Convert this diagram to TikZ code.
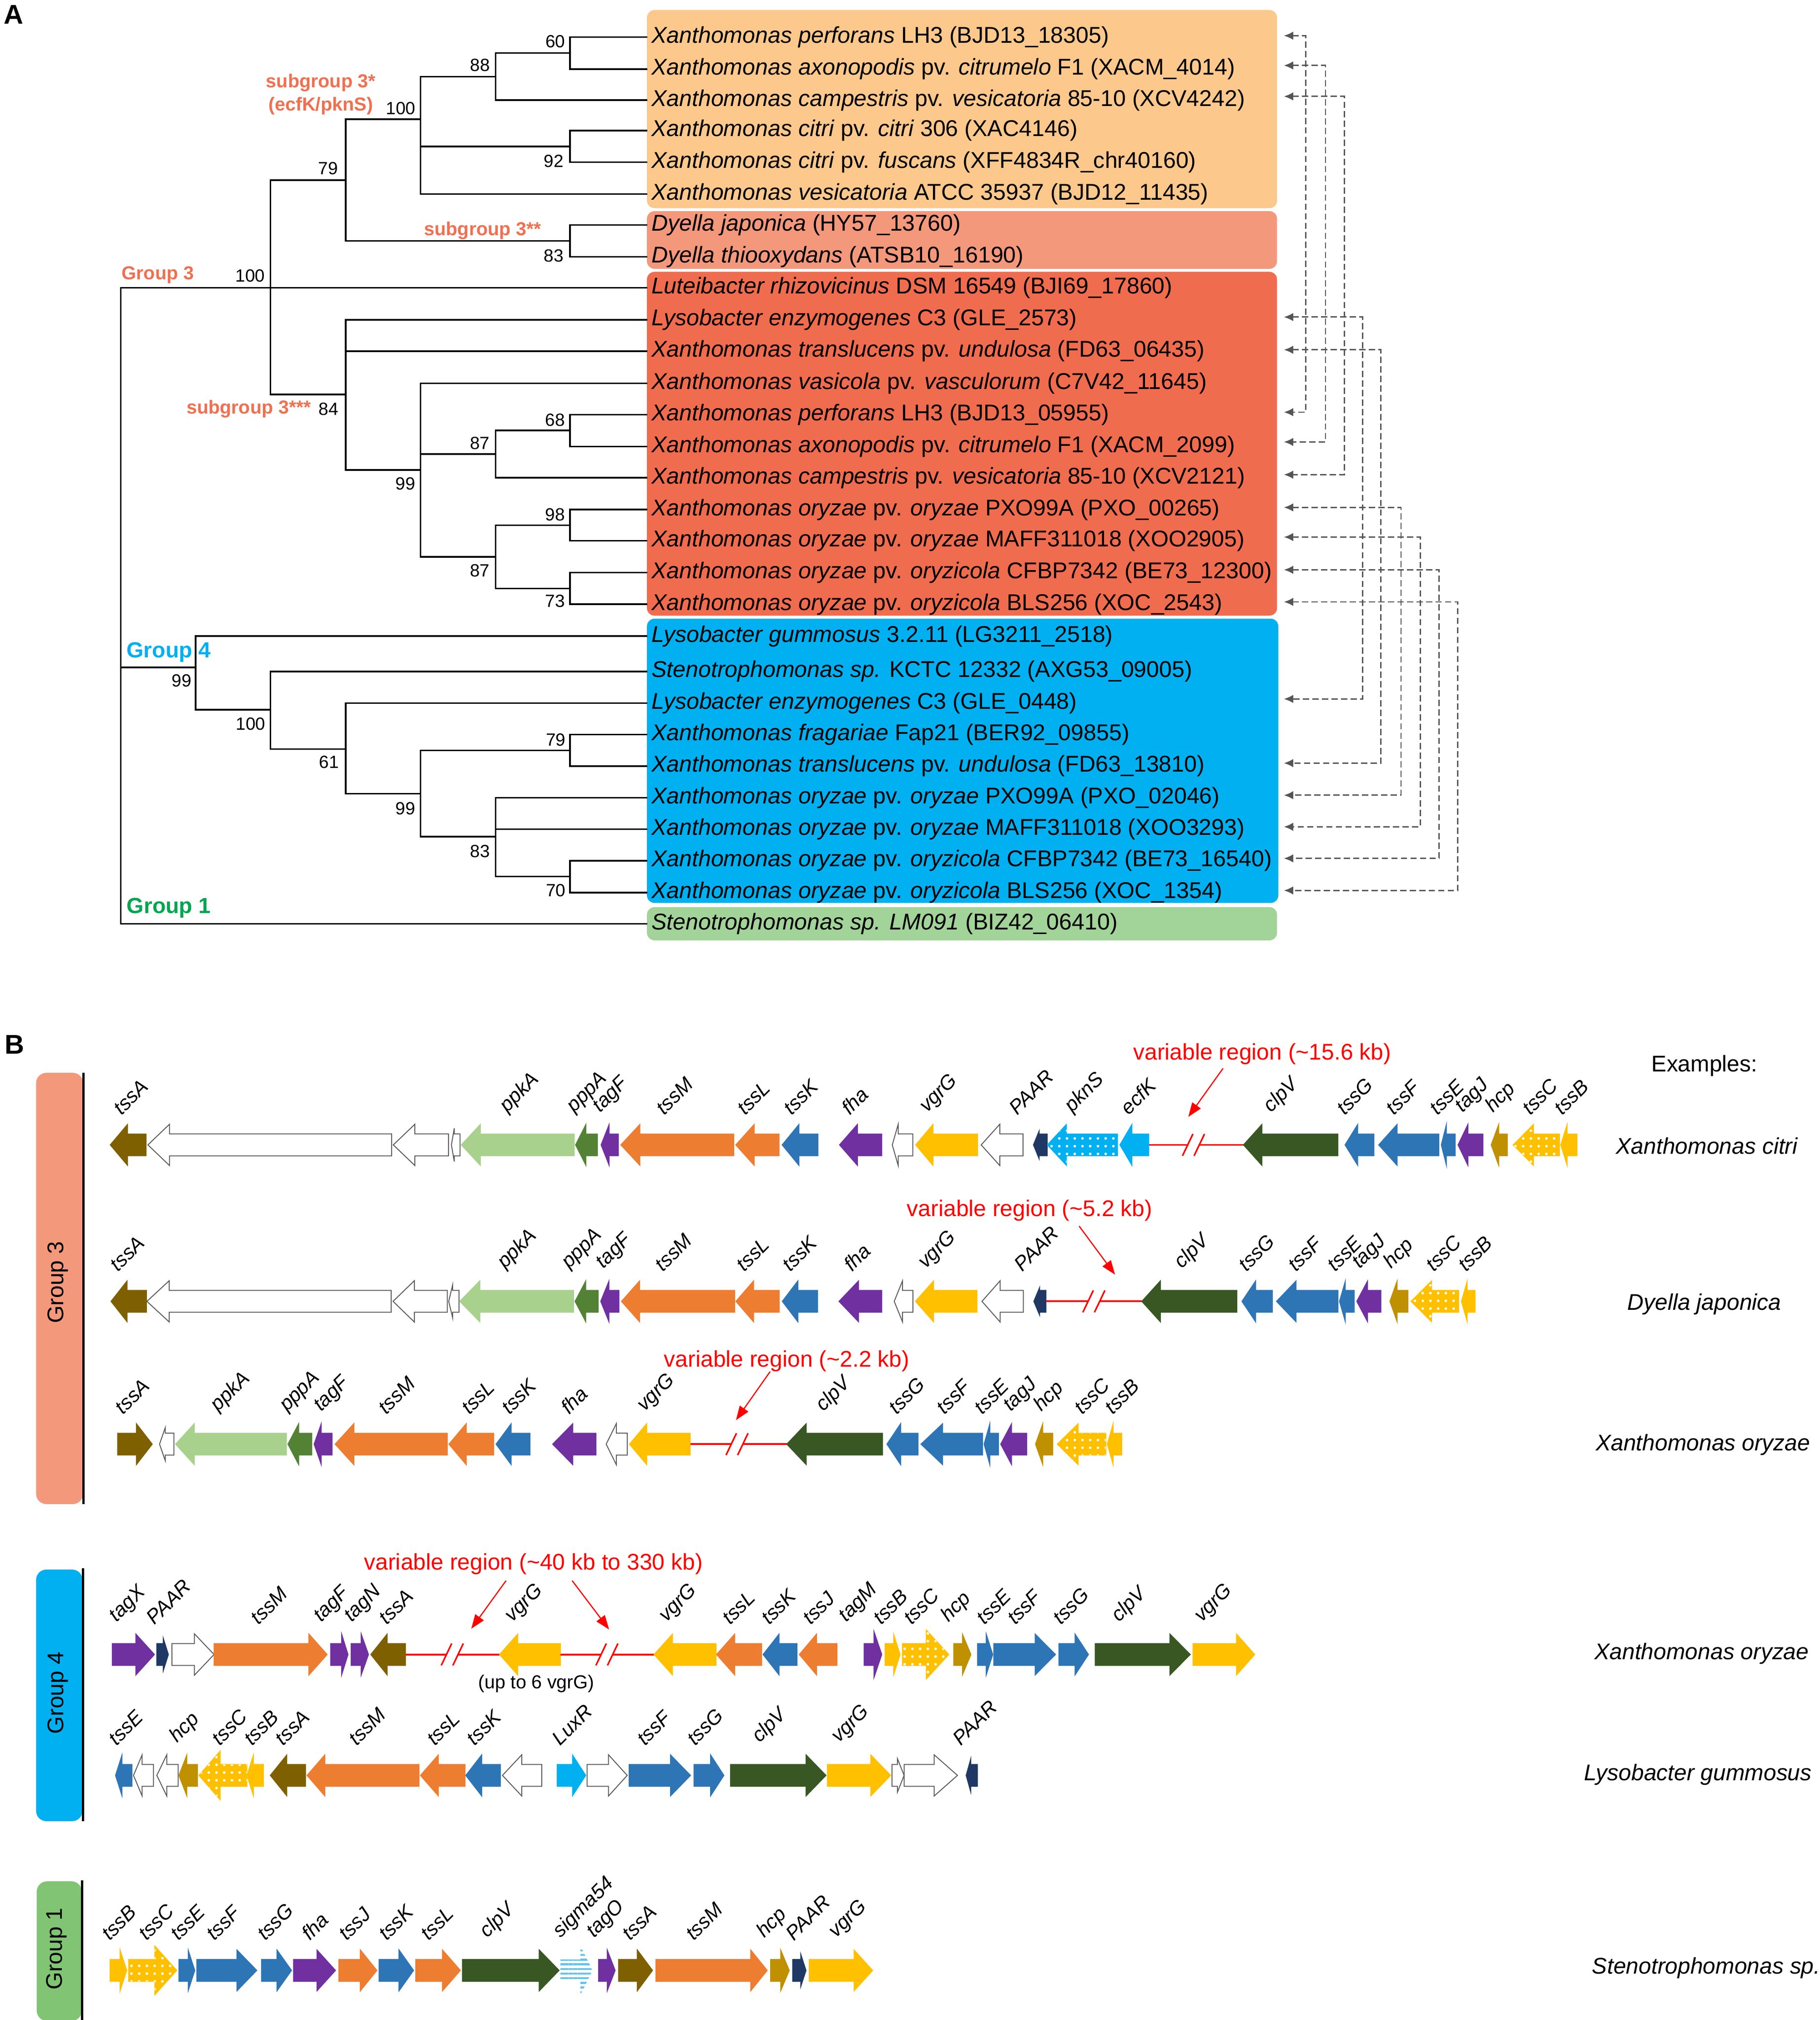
\documentclass[tikz,border=0pt]{standalone}
\usepackage{fontspec}
\setmainfont{Liberation Sans}
\usetikzlibrary{arrows.meta,patterns.meta,calc}

\definecolor{boxorange}{RGB}{252,200,140}
\definecolor{boxsalmon}{RGB}{244,152,124}
\definecolor{boxred}{RGB}{240,108,78}
\definecolor{boxblue}{RGB}{0,176,240}
\definecolor{boxgreen}{RGB}{162,211,152}
\definecolor{bargreen}{RGB}{128,196,116}
\definecolor{txtorange}{RGB}{240,112,80}
\definecolor{txtgreen}{RGB}{0,166,80}
\definecolor{pairgray}{RGB}{85,85,85}
\definecolor{cbrown}{RGB}{127,96,0}
\definecolor{clgreen}{RGB}{169,209,142}
\definecolor{cdgreen}{RGB}{84,130,53}
\definecolor{cpurple}{RGB}{112,48,160}
\definecolor{corange}{RGB}{237,125,49}
\definecolor{cblue}{RGB}{46,117,182}
\definecolor{cyellow}{RGB}{255,192,0}
\definecolor{cnavy}{RGB}{31,56,100}
\definecolor{ccyan}{RGB}{0,176,240}
\definecolor{cclpv}{RGB}{56,87,35}
\definecolor{chcp}{RGB}{191,144,0}
\definecolor{cstripe}{RGB}{100,195,235}
\definecolor{cred}{RGB}{255,0,0}

\newcommand{\leaffont}{\fontsize{8.85}{10}\selectfont}
\newcommand{\bootfont}{\fontsize{6.85}{8}\selectfont}
\newcommand{\sublabfont}{\fontsize{7.3}{9.15}\selectfont\bfseries}
\newcommand{\grpfont}{\fontsize{8.5}{10}\selectfont\bfseries}
\newcommand{\genefont}{\fontsize{7.8}{8.5}\selectfont\itshape}
\newcommand{\exfont}{\fontsize{8.8}{10}\selectfont}
\newcommand{\varfont}{\fontsize{8.8}{10}\selectfont}

\tikzset{
  branch/.style={line width=0.6pt, line cap=rect},
  leaf/.style={anchor=west, inner xsep=1.7pt, inner ysep=0pt, font=\leaffont},
  bootval/.style={inner sep=0pt, font=\bootfont},
  sublab/.style={inner sep=0pt, font=\sublabfont, text=txtorange, align=center},
  grplab/.style={inner sep=0pt, font=\grpfont},
  clade/.style={rounded corners=3pt},
  pairlink/.style={draw=pairgray, line width=0.5pt, dash pattern=on 2.4pt off 1.3pt,
    {Latex[length=3.6pt,width=3.2pt]}-{Latex[length=3.6pt,width=3.2pt]}},
  genelab/.style={rotate=45, anchor=south west, inner sep=0pt, font=\genefont},
  gbrown/.style={fill=cbrown, draw=cbrown},
  glgreen/.style={fill=clgreen, draw=clgreen},
  gdgreen/.style={fill=cdgreen, draw=cdgreen},
  gpurple/.style={fill=cpurple, draw=cpurple},
  gorange/.style={fill=corange, draw=corange},
  gblue/.style={fill=cblue, draw=cblue},
  gyellow/.style={fill=cyellow, draw=cyellow},
  gnavy/.style={fill=cnavy, draw=cnavy},
  gcyan/.style={fill=ccyan, draw=ccyan},
  gclpv/.style={fill=cclpv, draw=cclpv},
  ghcp/.style={fill=chcp, draw=chcp},
  gwhite/.style={fill=white, draw=black!65, line width=0.35pt},
  dotfill/.style={postaction={pattern={Dots[distance=3pt,radius=0.5pt]}, pattern color=white}},
  gstripe/.style={fill=white, draw=none,
    postaction={pattern={Lines[angle=0,distance=1.8pt,line width=0.8pt]}, pattern color=cstripe}},
  redline/.style={draw=cred, line width=0.7pt},
  redarrow/.style={draw=cred, line width=0.45pt, -{Triangle[length=5.5pt,width=4pt]}},
  varlab/.style={inner sep=0pt, font=\varfont, text=cred},
  exlab/.style={inner sep=0pt, font=\exfont},
  grpbar/.style={rounded corners=4pt},
  bartext/.style={rotate=90, inner sep=0pt, font=\fontsize{8.8}{10}\selectfont}
}

% gene arrow: [head half height]{name}{style}{tip}{head base}{tail}{label x}{label}
\newcommand{\gene}[8][16]{%
  \filldraw[line width=0.3pt,#3] (#4,\ry) -- (#5,\ry-#1) -- (#5,\ry-8.5) -- (#6,\ry-8.5)
    -- (#6,\ry+8.5) -- (#5,\ry+8.5) -- (#5,\ry+#1) -- cycle;
  \node[genelab] (#2) at (#7,\ry-22) {#8};}
\newcommand{\orf}[4][16]{%
  \filldraw[gwhite] (#2,\ry) -- (#3,\ry-#1) -- (#3,\ry-8.5) -- (#4,\ry-8.5)
    -- (#4,\ry+8.5) -- (#3,\ry+8.5) -- (#3,\ry+#1) -- cycle;}
\newcommand{\varbreak}[3]{%
  \draw[redline] (#1,\ry) -- (#2-4.5,\ry) (#2+4.5,\ry) -- (#3,\ry);
  \draw[redline, line width=0.6pt] (#2-8.6,\ry+8.5) -- (#2-0.5,\ry-8.5)
    (#2+0.4,\ry+8.5) -- (#2+8.5,\ry-8.5);}

\begin{document}
\begin{tikzpicture}[x=0.5pt,y=-0.5pt]
\path[use as bounding box, fill=white] (0,0) rectangle (1412,1567.3);

\node[font=\fontsize{10.5}{12}\selectfont\bfseries, inner sep=0pt] (labA) at (10.6,11.4) {A};

% clade boxes
\fill[boxorange, clade] (502,7.8) rectangle (991,161.5);
\fill[boxsalmon, clade] (502,163.8) rectangle (991,208.6);
\fill[boxred, clade] (502,210.9) rectangle (991,477.7);
\fill[boxblue, clade] (502,480) rectangle (992,700.6);
\fill[boxgreen, clade] (502,703.8) rectangle (991,729.6);

% leaves
\node[leaf] (l1) at (501.7,28.8) {\textit{Xanthomonas perforans} LH3 (BJD13\_18305)};
\node[leaf] (l2) at (501.7,53.6) {\textit{Xanthomonas axonopodis} pv. \textit{citrumelo} F1 (XACM\_4014)};
\node[leaf] (l3) at (501.7,77.7) {\textit{Xanthomonas campestris} pv. \textit{vesicatoria} 85-10 (XCV4242)};
\node[leaf] (l4) at (501.7,101.3) {\textit{Xanthomonas citri} pv. \textit{citri} 306 (XAC4146)};
\node[leaf] (l5) at (501.7,125.8) {\textit{Xanthomonas citri} pv. \textit{fuscans} (XFF4834R\_chr40160)};
\node[leaf] (l6) at (501.7,150.5) {\textit{Xanthomonas vesicatoria} ATCC 35937 (BJD12\_11435)};
\node[leaf] (l7) at (501.7,174.6) {\textit{Dyella japonica} (HY57\_13760)};
\node[leaf] (l8) at (501.7,199.3) {\textit{Dyella thiooxydans} (ATSB10\_16190)};
\node[leaf] (l9) at (501.7,223.3) {\textit{Luteibacter rhizovicinus} DSM 16549 (BJI69\_17860)};
\node[leaf] (l10) at (501.7,248.1) {\textit{Lysobacter enzymogenes} C3 (GLE\_2573)};
\node[leaf] (l11) at (501.7,272.5) {\textit{Xanthomonas translucens} pv. \textit{undulosa} (FD63\_06435)};
\node[leaf] (l12) at (501.7,297.4) {\textit{Xanthomonas vasicola} pv. \textit{vasculorum} (C7V42\_11645)};
\node[leaf] (l13) at (501.7,321.7) {\textit{Xanthomonas perforans} LH3 (BJD13\_05955)};
\node[leaf] (l14) at (501.7,346.4) {\textit{Xanthomonas axonopodis} pv. \textit{citrumelo} F1 (XACM\_2099)};
\node[leaf] (l15) at (501.7,370.7) {\textit{Xanthomonas campestris} pv. \textit{vesicatoria} 85-10 (XCV2121)};
\node[leaf] (l16) at (501.7,395.4) {\textit{Xanthomonas oryzae} pv. \textit{oryzae} PXO99A (PXO\_00265)};
\node[leaf] (l17) at (501.7,419.6) {\textit{Xanthomonas oryzae} pv. \textit{oryzae} MAFF311018 (XOO2905)};
\node[leaf] (l18) at (501.7,444.3) {\textit{Xanthomonas oryzae} pv. \textit{oryzicola} CFBP7342 (BE73\_12300)};
\node[leaf] (l19) at (501.7,468.8) {\textit{Xanthomonas oryzae} pv. \textit{oryzicola} BLS256 (XOC\_2543)};
\node[leaf] (l20) at (501.7,493.5) {\textit{Lysobacter gummosus} 3.2.11 (LG3211\_2518)};
\node[leaf] (l21) at (501.7,521) {\textit{Stenotrophomonas sp.} KCTC 12332 (AXG53\_09005)};
\node[leaf] (l22) at (501.7,545.5) {\textit{Lysobacter enzymogenes} C3 (GLE\_0448)};
\node[leaf] (l23) at (501.7,570) {\textit{Xanthomonas fragariae} Fap21 (BER92\_09855)};
\node[leaf] (l24) at (501.7,594.4) {\textit{Xanthomonas translucens} pv. \textit{undulosa} (FD63\_13810)};
\node[leaf] (l25) at (501.7,618.9) {\textit{Xanthomonas oryzae} pv. \textit{oryzae} PXO99A (PXO\_02046)};
\node[leaf] (l26) at (501.7,643.3) {\textit{Xanthomonas oryzae} pv. \textit{oryzae} MAFF311018 (XOO3293)};
\node[leaf] (l27) at (501.7,667.8) {\textit{Xanthomonas oryzae} pv. \textit{oryzicola} CFBP7342 (BE73\_16540)};
\node[leaf] (l28) at (501.7,692.5) {\textit{Xanthomonas oryzae} pv. \textit{oryzicola} BLS256 (XOC\_1354)};
\node[leaf] (l29) at (501.7,716.8) {\textit{Stenotrophomonas sp. LM091} (BIZ42\_06410)};

% internal nodes
\coordinate (root) at (93.7,223.3);
\coordinate (g3) at (209.9,223.3);
\coordinate (n79a) at (268.3,139.8);
\coordinate (n100a) at (326.4,92.5);
\coordinate (n88) at (384.5,59.5);
\coordinate (n60) at (442.3,41.2);
\coordinate (n92) at (442.3,113.6);
\coordinate (n83a) at (442.3,187);
\coordinate (n84) at (268.3,306);
\coordinate (n99a) at (326.4,364.6);
\coordinate (n87a) at (384.5,352.3);
\coordinate (n68) at (442.3,334);
\coordinate (n87b) at (384.5,432.1);
\coordinate (n98) at (442.3,407.5);
\coordinate (n73) at (442.3,456.6);
\coordinate (g4) at (151.8,517.8);
\coordinate (n100b) at (209.9,550.7);
\coordinate (n61) at (268.3,581.3);
\coordinate (n99b) at (326.4,615.9);
\coordinate (n79b) at (442.3,582.2);
\coordinate (n83b) at (384.5,649.2);
\coordinate (n70) at (442.3,680.1);

\draw[branch] (root) |- (g3) (root) |- (g4) (root) |- (l29.west)
  (g3) |- (n79a) (g3) |- (l9.west) (g3) |- (n84)
  (n79a) |- (n100a) (n79a) |- (n83a)
  (n100a) |- (n88) (n100a) |- (n92) (n100a) |- (l6.west)
  (n88) |- (n60) (n88) |- (l3.west)
  (n60) |- (l1.west) (n60) |- (l2.west)
  (n92) |- (l4.west) (n92) |- (l5.west)
  (n83a) |- (l7.west) (n83a) |- (l8.west)
  (n84) |- (l10.west) (n84) |- (l11.west) (n84) |- (n99a)
  (n99a) |- (l12.west) (n99a) |- (n87a) (n99a) |- (n87b)
  (n87a) |- (n68) (n87a) |- (l15.west)
  (n68) |- (l13.west) (n68) |- (l14.west)
  (n87b) |- (n98) (n87b) |- (n73)
  (n98) |- (l16.west) (n98) |- (l17.west)
  (n73) |- (l18.west) (n73) |- (l19.west)
  (g4) |- (l20.west) (g4) |- (n100b)
  (n100b) |- (l21.west) (n100b) |- (n61)
  (n61) |- (l22.west) (n61) |- (n99b)
  (n99b) |- (n79b) (n99b) |- (n83b)
  (n79b) |- (l23.west) (n79b) |- (l24.west)
  (n83b) |- (l25.west) (n83b) |- (l26.west) (n83b) |- (n70)
  (n70) |- (l27.west) (n70) |- (l28.west);

% bootstrap values
\node[bootval] (b60) at (431,32) {60};
\node[bootval] (b88) at (372.6,50.4) {88};
\node[bootval] (b100a) at (311,84) {100};
\node[bootval] (b79a) at (254.6,130.8) {79};
\node[bootval] (b92) at (429.7,125) {92};
\node[bootval] (b83a) at (429.7,198.5) {83};
\node[bootval] (b100g) at (194.2,213.9) {100};
\node[bootval] (b84) at (255,317.3) {84};
\node[bootval] (b68) at (430.8,325.8) {68};
\node[bootval] (b87a) at (372.4,343.9) {87};
\node[bootval] (b99a) at (314.7,375.2) {99};
\node[bootval] (b98) at (430.8,399.2) {98};
\node[bootval] (b87b) at (372.4,442.7) {87};
\node[bootval] (b73) at (430.8,466.3) {73};
\node[bootval] (b99g) at (141,528.2) {99};
\node[bootval] (b100b) at (194.5,561.5) {100};
\node[bootval] (b61) at (255.4,591.3) {61};
\node[bootval] (b79b) at (431.3,574) {79};
\node[bootval] (b99b) at (314.7,627.3) {99};
\node[bootval] (b83b) at (372.5,660.6) {83};
\node[bootval] (b70) at (431.3,690.8) {70};

% group labels
\node[sublab] (sub1) at (249,73.2) {subgroup 3*\\(ecfK/pknS)};
\node[sublab] (sub2) at (374.5,178.8) {subgroup 3**};
\node[sublab] (sub3) at (193,317.3) {subgroup 3***};
\node[sublab] (grp3) at (122.4,213.5) {Group 3};
\node[grplab, text=boxblue] (grp4) at (130.9,506.1) {Group 4};
\node[grplab, text=txtgreen] (grp1) at (131,704.3) {Group 1};

% paralog links
\coordinate (t1) at (996.3,27.7);
\coordinate (t2) at (996.3,50.8);
\coordinate (t3) at (996.3,74.8);
\coordinate (t10) at (996.3,246);
\coordinate (t11) at (996.3,271.4);
\coordinate (t13) at (996.3,319.8);
\coordinate (t14) at (996.3,342.9);
\coordinate (t15) at (996.3,368.3);
\coordinate (t16) at (996.3,393.7);
\coordinate (t17) at (996.3,416.7);
\coordinate (t18) at (996.3,442.1);
\coordinate (t19) at (996.3,467);
\coordinate (t22) at (996.3,542.3);
\coordinate (t24) at (996.3,592.1);
\coordinate (t25) at (996.3,617);
\coordinate (t26) at (996.3,641.5);
\coordinate (t27) at (996.3,666);
\coordinate (t28) at (996.3,690.9);
\draw[pairlink] (t1) -- ++(17,0) |- (t13);
\draw[pairlink] (t2) -- ++(32.3,0) |- (t14);
\draw[pairlink] (t3) -- ++(47,0) |- (t15);
\draw[pairlink] (t10) -- ++(61.1,0) |- (t22);
\draw[pairlink] (t11) -- ++(75.2,0) |- (t24);
\draw[pairlink] (t16) -- ++(90.9,0) |- (t25);
\draw[pairlink] (t17) -- ++(105.9,0) |- (t26);
\draw[pairlink] (t18) -- ++(120.5,0) |- (t27);
\draw[pairlink] (t19) -- ++(135,0) |- (t28);

% ---------------- B
\node[font=\fontsize{10.5}{12}\selectfont\bfseries, inner sep=0pt] (labB) at (11.2,810.5) {B};

\fill[boxsalmon, grpbar] (28,832.4) rectangle (64.5,1167);
\draw[line width=0.8pt] (64.8,832.4) -- (64.8,1167);
\node[bartext] (bar3) at (45,995) {Group 3};
\fill[boxblue, grpbar] (28,1217.8) rectangle (64,1413);
\draw[line width=0.8pt] (64.4,1216.6) -- (64.4,1413);
\node[bartext] (bar4) at (45,1313.5) {Group 4};
\fill[bargreen, grpbar] (28.5,1459.7) rectangle (63.5,1568);
\draw[line width=0.8pt] (63.8,1459) -- (63.8,1567.3);
\node[bartext] (bar1) at (44,1512) {Group 1};

\node[exlab] (exhead) at (1322.7,827) {Examples:};
\node[exlab, font=\exfont\itshape] (ex1) at (1324.5,889) {Xanthomonas citri};
\node[exlab, font=\exfont\itshape] (ex2) at (1322.5,1012) {Dyella japonica};
\node[exlab, font=\exfont\itshape] (ex3) at (1321.5,1121) {Xanthomonas oryzae};
\node[exlab, font=\exfont\itshape] (ex4) at (1320.5,1283) {Xanthomonas oryzae};
\node[exlab, font=\exfont\itshape] (ex5) at (1317.5,1377) {Lysobacter gummosus};
\node[exlab, font=\exfont\itshape] (ex6) at (1324,1527) {Stenotrophomonas sp.};

% Xanthomonas citri
\def\ry{888.3}
\gene{a-tssA}{gbrown}{85.5}{99}{113.4}{94.5}{tssA}
\orf{114.8}{131.5}{303.9}
\orf{305.2}{321.9}{348}
\orf[13]{350.3}{352.5}{357}
\gene{a-ppkA}{glgreen}{357.9}{372.8}{445.7}{396}{ppkA}
\gene{a-pppA}{gdgreen}{446.6}{454.7}{463.7}{448}{pppA}
\gene{a-tagF}{gpurple}{466.4}{472.7}{479.9}{468}{tagF}
\gene{a-tssM}{gorange}{481.7}{496.6}{569.5}{515.5}{tssM}
\gene{a-tssL}{gorange}{570.9}{585.3}{604.6}{578.5}{tssL}
\gene{a-tssK}{gblue}{606.9}{620}{634.8}{614.5}{tssK}
\gene{a-fha}{gpurple}{651.4}{665.4}{684.3}{659.5}{fha}
\orf{692.4}{697}{708.3}
\gene{a-vgrG}{gyellow}{710.5}{724}{758.7}{721.8}{vgrG}
\orf{761.4}{775.8}{793.8}
\gene[11]{a-PAAR}{gnavy}{801.9}{806.4}{812.7}{789.3}{PAAR}
\gene{a-pknS}{gcyan,dotfill}{812.7}{827.6}{867.2}{834.3}{pknS}
\gene{a-ecfK}{gcyan}{869}{878.4}{891.5}{876.2}{ecfK}
\varbreak{891.5}{926.2}{964.9}
\gene{a-clpV}{gclpv}{964.9}{979.3}{1038.2}{988.7}{clpV}
\gene{a-tssG}{gblue}{1043.7}{1053.6}{1066.2}{1043.7}{tssG}
\gene{a-tssF}{gblue}{1069.8}{1084.2}{1116.6}{1082}{tssF}
\gene{a-tssE}{gblue}{1118.4}{1122.4}{1129.2}{1115.7}{tssE}
\gene{a-tagJ}{gpurple}{1131.4}{1139.1}{1150.8}{1137.3}{tagJ}
\gene{a-hcp}{ghcp}{1157.1}{1163}{1169.7}{1161}{hcp}
\gene{a-tssC}{gyellow,dotfill}{1174.2}{1190}{1210.2}{1187.7}{tssC}
\gene{a-tssB}{gyellow}{1211.1}{1216.1}{1223.7}{1212.5}{tssB}
\node[varlab] (var1) at (979.5,817.8) {variable region (\textasciitilde 15.6 kb)};
\coordinate (var1s) at (949.1,828.9);
\coordinate (var1t) at (922.1,866.6);
\draw[redarrow] (var1s) -- (var1t);

% Dyella japonica
\def\ry{1009.7}
\gene{b-tssA}{gbrown}{86.1}{98.7}{113.7}{91.8}{tssA}
\orf{114}{131.3}{303.5}
\orf{305}{321.5}{347.1}
\orf[13]{348.2}{351.3}{356.2}
\gene{b-ppkA}{glgreen}{356.7}{372.4}{445.1}{394.2}{ppkA}
\gene{b-pppA}{gdgreen}{446.2}{454.6}{464.2}{444}{pppA}
\gene{b-tagF}{gpurple}{466.1}{472.6}{480.3}{470.7}{tagF}
\gene{b-tssM}{gorange}{482.2}{496.4}{570.2}{514.7}{tssM}
\gene{b-tssL}{gorange}{571}{584.8}{604.7}{577.9}{tssL}
\gene{b-tssK}{gblue}{607}{619.2}{634.5}{613.5}{tssK}
\gene{b-fha}{gpurple}{651}{666.3}{684.3}{661.3}{fha}
\orf{693.9}{700.4}{708.4}
\gene{b-vgrG}{gyellow}{710.3}{724.5}{758.1}{720.7}{vgrG}
\orf{762}{776.1}{794.1}
\gene[11]{b-PAAR}{gnavy}{802.2}{806.8}{811.7}{793.4}{PAAR}
\varbreak{811.7}{848.9}{886}
\gene{b-clpV}{gclpv}{886}{900.5}{959.8}{919.6}{clpV}
\gene{b-tssG}{gblue}{963.7}{974.4}{987.4}{967.5}{tssG}
\gene{b-tssF}{gblue}{990.5}{1005.8}{1038.3}{1005.8}{tssF}
\gene{b-tssE}{gblue}{1039.4}{1044}{1050.9}{1036.4}{tssE}
\gene{b-tagJ}{gpurple}{1052.8}{1061.3}{1071.6}{1057.4}{tagJ}
\gene{b-hcp}{ghcp}{1078.5}{1084.2}{1092.6}{1082}{hcp}
\gene{b-tssC}{gyellow,dotfill}{1094.9}{1111}{1132}{1112.9}{tssC}
\gene{b-tssB}{gyellow}{1134}{1138.6}{1144.7}{1137.8}{tssB}
\node[varlab] (var2) at (799,939) {variable region (\textasciitilde 5.2 kb)};
\coordinate (var2s) at (837.4,951.3);
\coordinate (var2t) at (865.3,989);
\draw[redarrow] (var2s) -- (var2t);

% Xanthomonas oryzae, group 3
\def\ry{1120.5}
\gene{c-tssA}{gbrown}{118.2}{105.8}{91.2}{95.7}{tssA}
\orf[13]{123.8}{128.3}{135}
\gene{c-ppkA}{glgreen}{136.2}{150.8}{222.3}{171.6}{ppkA}
\gene{c-pppA}{gdgreen}{223.4}{231.8}{242}{225.1}{pppA}
\gene{c-tagF}{gpurple}{243.7}{249.3}{257.7}{251.5}{tagF}
\gene{c-tssM}{gorange}{260}{274.6}{347.2}{299.9}{tssM}
\gene{c-tssL}{gorange}{348.3}{361.8}{383.2}{364.6}{tssL}
\gene{c-tssK}{gblue}{384.9}{396.7}{411.3}{395.6}{tssK}
\gene{c-fha}{gpurple}{428.8}{444.5}{462.5}{441.7}{fha}
\orf{470.4}{478.3}{486.7}
\gene{c-vgrG}{gyellow}{488.4}{501.9}{535.7}{502.5}{vgrG}
\varbreak{535.7}{572}{610.5}
\gene{c-clpV}{gclpv}{610.5}{625.7}{684.8}{641.5}{clpV}
\gene{c-tssG}{gblue}{688.2}{698.9}{712.4}{696}{tssG}
\gene{c-tssF}{gblue}{714.6}{731.5}{762.5}{733.2}{tssF}
\gene{c-tssE}{gblue}{763.6}{768.1}{774.8}{762.5}{tssE}
\gene{c-tagJ}{gpurple}{776.5}{785}{796.8}{786.7}{tagJ}
\gene{c-hcp}{ghcp}{803.5}{809.2}{817}{810.3}{hcp}
\gene{c-tssC}{gyellow,dotfill}{820.4}{836.7}{858.1}{840.1}{tssC}
\gene{c-tssB}{gyellow}{859.2}{863.8}{870.5}{863.7}{tssB}
\node[varlab] (var3) at (610.5,1056) {variable region (\textasciitilde 2.2 kb)};
\coordinate (var3s) at (597.6,1064.2);
\coordinate (var3t) at (571.1,1101.9);
\draw[redarrow] (var3s) -- (var3t);

% Xanthomonas oryzae, group 4
\def\ry{1283.7}
\gene{d-tagX}{gpurple}{119.9}{105.4}{87.1}{92.9}{tagX}
\gene[13]{d-PAAR}{gnavy}{130.7}{126.6}{121.6}{119.9}{PAAR}
\orf{166.1}{150.9}{133.4}
\gene{d-tssM}{gorange}{253.9}{239.7}{166.1}{200.9}{tssM}
\gene{d-tagF}{gpurple}{270.1}{265.1}{256.6}{251.6}{tagF}
\gene{d-tagN}{gpurple}{286}{280.3}{272.5}{275.2}{tagN}
\gene{d-tssA}{gbrown}{287.7}{300.5}{314.7}{300.5}{tssA}
\varbreak{314.7}{351}{387.6}
\gene{d-vgrG1}{gyellow}{387.6}{401.8}{434.9}{400.1}{vgrG}
\varbreak{434.9}{471}{507.5}
\gene{d-vgrG2}{gyellow}{507.5}{521.9}{555.7}{519.5}{vgrG}
\gene{d-tssL}{gorange}{556}{570.2}{591.1}{566.8}{tssL}
\gene{d-tssK}{gblue}{592.1}{604.6}{618.5}{597.2}{tssK}
\gene{d-tssJ}{gorange}{620.2}{633.7}{649.5}{629.3}{tssJ}
\gene[18]{d-tagM}{gpurple}{684.3}{678.2}{670.5}{659}{tagM}
\gene{d-tssB}{gyellow}{698.5}{693.4}{686.7}{684}{tssB}
\gene[19]{d-tssC}{gyellow,dotfill}{736.3}{718.8}{700.2}{707.6}{tssC}
\gene{d-hcp}{ghcp}{753.5}{746.8}{740}{738.3}{hcp}
\gene{d-tssE}{gblue}{770.4}{765.3}{758.6}{764.3}{tssE}
\gene{d-tssF}{gblue}{819.1}{803.2}{771.1}{788}{tssF}
\gene{d-tssG}{gblue}{844.7}{834.2}{821.7}{823.4}{tssG}
\gene{d-clpV}{gclpv}{923.7}{907.8}{849.8}{870.7}{clpV}
\gene{d-vgrG3}{gyellow}{973.7}{959.5}{925.7}{934.9}{vgrG}
\node[varlab] (var4) at (414,1213.4) {variable region (\textasciitilde 40 kb to 330 kb)};
\coordinate (var4s) at (392.7,1226.4);
\coordinate (var4t) at (365.7,1263.7);
\coordinate (var5s) at (444,1226.4);
\coordinate (var5t) at (472.7,1264.3);
\draw[redarrow] (var4s) -- (var4t);
\draw[redarrow] (var5s) -- (var5t);
\node[inner sep=0pt, font=\fontsize{7.3}{8}\selectfont] (upto) at (416.2,1306.4) {(up to 6 vgrG)};

% Lysobacter gummosus
\def\ry{1377.5}
\gene{e-tssE}{gblue}{89.6}{94.7}{102.5}{90.6}{tssE}
\orf{103.6}{110.3}{119.1}
\orf{121.7}{129.4}{138.2}
\gene{e-hcp}{ghcp}{138.8}{145}{153.3}{139.8}{hcp}
\gene[19]{e-tssC}{gyellow,dotfill}{154.3}{170.9}{191.6}{170.9}{tssC}
\gene{e-tssB}{gyellow}{191.6}{196.7}{204.5}{195.7}{tssB}
\gene{e-tssA}{gbrown}{209.7}{222.6}{237.1}{220}{tssA}
\gene{e-tssM}{gorange}{238.2}{252.1}{325.2}{277}{tssM}
\gene{e-tssL}{gorange}{326.2}{340.2}{360.9}{337.6}{tssL}
\gene{e-tssK}{gblue}{361.4}{373.8}{388.3}{368.6}{tssK}
\orf{389.9}{404.9}{420.4}
\gene{e-LuxR}{gcyan}{454.6}{444.2}{432.3}{434.9}{LuxR}
\orf{486.7}{472.2}{455.6}
\gene{e-tssF}{gblue}{535.9}{520.3}{488.2}{500.7}{tssF}
\gene{e-tssG}{gblue}{561.8}{551.4}{538.5}{539.5}{tssG}
\gene{e-clpV}{gclpv}{641}{625.5}{566.9}{591.8}{clpV}
\gene{e-vgrG}{gyellow}{691.2}{675.7}{642}{653.4}{vgrG}
\orf[13]{701.6}{696.4}{692.2}
\orf{743}{724.9}{701.6}
\gene[13]{e-PAAR}{gnavy}{749.7}{753.3}{758.5}{745.6}{PAAR}

% Stenotrophomonas sp.
\def\ry{1528.8}
\gene{f-tssB}{gyellow}{98.4}{93.2}{85.4}{85.4}{tssB}
\gene[19]{f-tssC}{gyellow,dotfill}{137.2}{120.1}{99.9}{113.9}{tssC}
\gene{f-tssE}{gblue}{151.2}{146}{138.8}{138.8}{tssE}
\gene{f-tssF}{gblue}{199.3}{183.8}{152.7}{166.7}{tssF}
\gene{f-tssG}{gblue}{226.3}{214.9}{203}{206.1}{tssG}
\gene{f-fha}{gpurple}{260.4}{245.9}{227.8}{240.8}{fha}
\gene{f-tssJ}{gorange}{292.5}{279.6}{263}{269.2}{tssJ}
\gene{f-tssK}{gblue}{321}{309.6}{294.1}{300.3}{tssK}
\gene{f-tssL}{gorange}{357.3}{343.3}{322.6}{332.9}{tssL}
\gene{f-clpV}{gclpv}{433.9}{418.4}{358.8}{380.6}{clpV}
\gene[19]{f-sigma54}{gstripe}{459.8}{450.4}{434.9}{437.5}{sigma54}
\gene{f-tagO}{gpurple}{477.4}{471.2}{464.4}{463.4}{tagO}
\gene{f-tssA}{gbrown}{506.4}{494.5}{480}{489.3}{tssA}
\gene{f-tssM}{gorange}{595.4}{582.5}{509}{538.5}{tssM}
\gene{f-hcp}{ghcp}{612.5}{605.8}{598}{595.4}{hcp}
\gene[13]{f-PAAR}{gnavy}{625.5}{621.3}{615.1}{616.1}{PAAR}
\gene{f-vgrG}{gyellow}{677.2}{662.7}{628}{651.3}{vgrG}
\end{tikzpicture}
\end{document}
